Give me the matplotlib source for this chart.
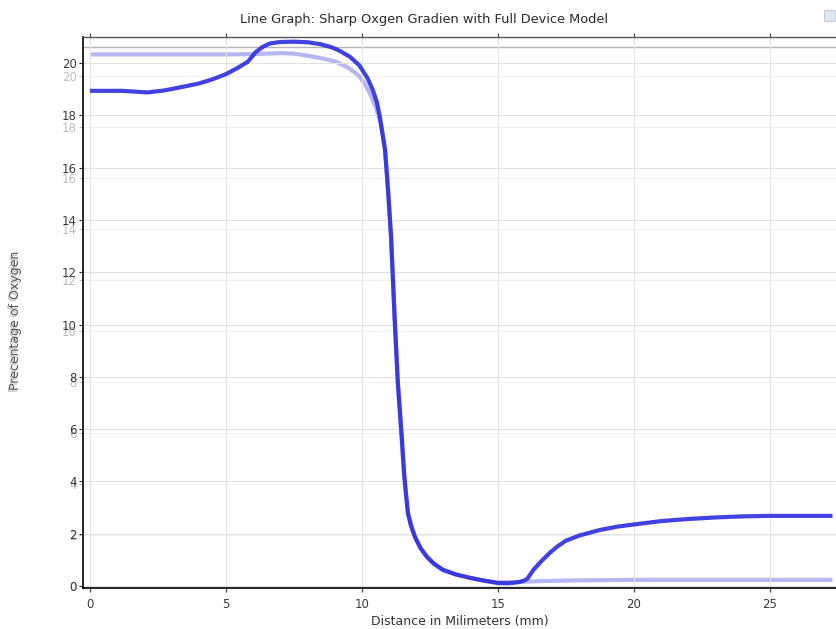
import numpy as np
import matplotlib
matplotlib.use("Agg")
import matplotlib.pyplot as plt
from matplotlib.patches import Rectangle

# oxygen profile along the channel, full device model
dist_full = [0, 1.2, 2.1, 2.7, 3.3, 4.0, 4.5, 5.0, 5.4, 5.8, 6.1, 6.35, 6.6, 7.0,
             7.5, 8.0, 8.5, 8.9, 9.2, 9.56, 9.9, 10.2, 10.4, 10.55, 10.66, 10.85,
             10.96, 11.07, 11.21, 11.32, 11.47, 11.55, 11.62, 11.69, 11.8, 11.95,
             12.15, 12.39, 12.65, 12.98, 13.45, 13.97, 14.5, 15.0, 15.4, 15.8,
             16.0, 16.1, 16.3, 16.6, 16.9, 17.2, 17.5, 18.0, 18.75, 19.4, 20, 21,
             22, 23, 24, 25, 26, 27.3]
oxy_full = [18.94, 18.94, 18.88, 18.95, 19.07, 19.22, 19.38, 19.58, 19.8, 20.05,
            20.43, 20.62, 20.75, 20.81, 20.82, 20.8, 20.72, 20.6, 20.46, 20.24,
            19.92, 19.43, 18.97, 18.5, 17.93, 16.67, 15.14, 13.35, 10.06, 7.76,
            5.6, 4.3, 3.5, 2.79, 2.3, 1.87, 1.45, 1.11, 0.85, 0.61, 0.44, 0.31,
            0.2, 0.11, 0.1, 0.15, 0.22, 0.3, 0.61, 0.95, 1.26, 1.52, 1.73, 1.93,
            2.14, 2.27, 2.35, 2.48, 2.56, 2.62, 2.66, 2.68, 2.68, 2.68]

# earlier run (channel only), drawn faint on its own scale
dist_chan = [0, 5, 6, 7, 7.5, 8, 8.5, 9, 9.5, 9.9, 10.1, 10.3, 10.5, 10.7, 10.85,
             10.96, 11.07, 11.21, 11.32, 11.47, 11.55, 11.69, 11.95, 12.15, 12.39,
             12.65, 12.98, 13.45, 13.97, 14.5, 15.0, 15.8, 16.5, 18, 20, 27.3]
oxy_chan = [20.85, 20.85, 20.86, 20.9, 20.88, 20.8, 20.7, 20.58, 20.33, 20.0,
            19.7, 19.3, 18.8, 18.1, 17.1, 15.5, 13.7, 10.3, 7.96, 5.6, 4.3, 2.86,
            1.92, 1.5, 1.14, 0.85, 0.63, 0.45, 0.31, 0.2, 0.14, 0.16, 0.19, 0.22,
            0.24, 0.24]

x_ticks = [0, 5, 10, 15, 20, 25]
y_ticks = [0, 2, 4, 6, 8, 10, 12, 14, 16, 18, 20]

W, H = 836, 629
fig = plt.figure(figsize=(W / 100, H / 100), dpi=100)

left, right, bottom = 83, 836, 588
ax = fig.add_axes([left / W, 1 - bottom / H, (right - left) / W, (bottom - 37) / H])
gx = fig.add_axes([left / W, 1 - bottom / H, (right - left) / W, (bottom - 47) / H])
ax.set_zorder(2)
gx.set_zorder(1)
ax.patch.set_alpha(0)

xlim = (-0.257, 27.43)

# faint axes underneath
gx.set_xlim(*xlim)
gx.set_ylim(-0.08, 21.14)
gx.set_yticks(y_ticks)
gx.set_xticks([])
gx.tick_params(axis="y", colors="#c4c4c4", labelcolor="#bdbdbd", labelsize=8.5,
               length=3, pad=1.5, direction="out")
gx.grid(True, axis="y", color="#f0f0f0", lw=0.8)
for s in ["left", "right", "bottom"]:
    gx.spines[s].set_visible(False)
gx.spines["top"].set_color("#b5b5b5")
gx.spines["top"].set_linewidth(1.0)
gx.plot(dist_chan, oxy_chan, color="#a9a9f2", lw=3.0, alpha=0.85,
        solid_capstyle="butt", solid_joinstyle="round")

# main axes
ax.set_xlim(*xlim)
ax.set_ylim(-0.08, 21.0)
ax.set_xticks(x_ticks)
ax.set_yticks(y_ticks)
ax.grid(True, color="#e2e2e2", lw=0.8)
ax.set_axisbelow(True)
ax.tick_params(axis="both", colors="#333333", labelcolor="#3a3a3a", labelsize=8.5,
               length=3, direction="out")
ax.tick_params(axis="y", pad=1.5)
ax.tick_params(axis="x", pad=4)
ax.tick_params(axis="x", which="both", top=True, labeltop=False)
ax.spines["right"].set_visible(False)
ax.spines["left"].set_linewidth(1.2)
ax.spines["bottom"].set_linewidth(1.2)
ax.spines["top"].set_color("#555555")
ax.spines["top"].set_linewidth(1.0)
ax.plot(dist_full, oxy_full, color="#2828dc", lw=3.0, alpha=0.88,
        solid_capstyle="butt", solid_joinstyle="round")

ax.set_xlabel("Distance in Milimeters (mm)", fontsize=9, color="#333333",
              labelpad=3)
fig.text(15 / W, 1 - 322 / H, "Precentage of Oxygen", rotation=90,
         ha="center", va="center", fontsize=9, color="#c0c0c0")
fig.text(16 / W, 1 - 320 / H, "Precentage of Oxygen", rotation=90,
         ha="center", va="center", fontsize=9, color="#555555")

fig.text(424 / W, 1 - 20 / H, "Line Graph: Sharp Oxgen Gradien with Full Device Model",
         ha="center", va="center", fontsize=9.25, color="#2a2a2a")

# small toolbar icon in the corner
fig.patches.append(Rectangle((824 / W, 1 - 21 / H), 11 / W, 11 / H,
                             transform=fig.transFigure, facecolor="#dfe6ee",
                             edgecolor="#c9d3de", lw=0.8))

fig.savefig("out.png", dpi=100)
